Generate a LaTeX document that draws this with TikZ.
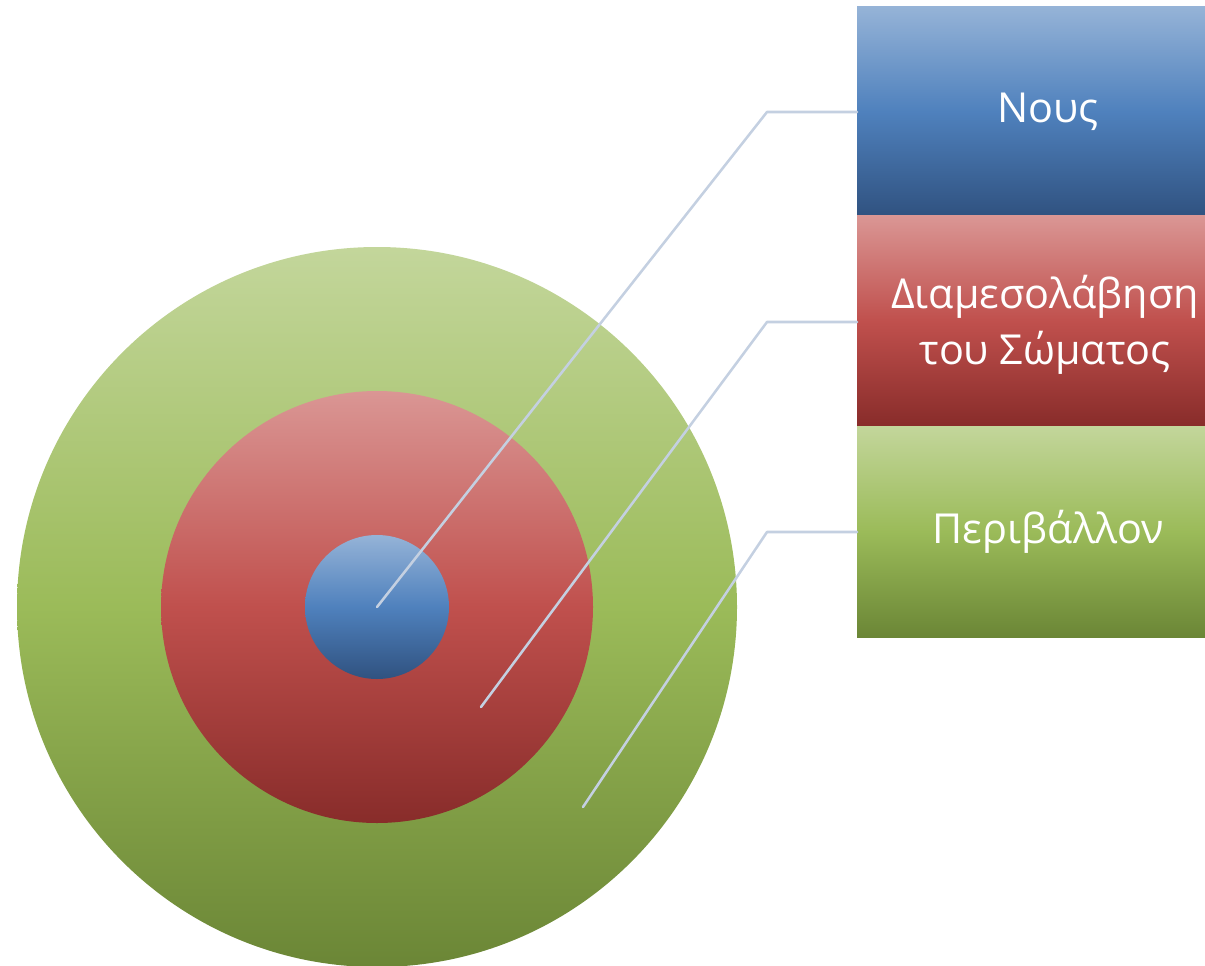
\documentclass[tikz,border=0pt]{standalone}
\usepackage{fontspec}
\setmainfont{Open Sans}
\definecolor{bT}{RGB}{149,179,215}
\definecolor{bM}{RGB}{79,129,189}
\definecolor{bB}{RGB}{48,82,128}
\definecolor{rT}{RGB}{218,150,148}
\definecolor{rM}{RGB}{192,80,77}
\definecolor{rB}{RGB}{136,44,42}
\definecolor{gT}{RGB}{195,214,155}
\definecolor{gM}{RGB}{155,187,89}
\definecolor{gB}{RGB}{107,134,54}
\definecolor{lineC}{RGB}{196,208,225}
\begin{document}
\begin{tikzpicture}[x=0.75pt,y=-0.75pt,
  bluefill/.style={top color=bT,bottom color=bB,middle color=bM,draw=none},
  redfill/.style={top color=rT,bottom color=rB,middle color=rM,draw=none},
  greenfill/.style={top color=gT,bottom color=gB,middle color=gM,draw=none},
  ring/.style={circle,inner sep=0pt,outer sep=0pt},
  panel/.style={rectangle,inner sep=0pt,outer sep=0pt,minimum width=348*0.75pt,text=white,align=center},
  label/.style={text=white,align=center,font=\fontsize{31}{42}\selectfont},
  leader/.style={draw=lineC,line width=1.9pt,line cap=round,line join=round}]
\useasboundingbox (0,0) rectangle (1205,966);
\begin{scope}
\clip (0,0) rectangle (1205,966);
\node[ring,greenfill,minimum size=720*0.75pt] (green) at (377,607) {};
\end{scope}
\node[ring,redfill,minimum size=432*0.75pt] (red) at (377,607) {};
\node[ring,bluefill,minimum size=144*0.75pt] (blue) at (377,607) {};
\coordinate (pb) at (377,607);
\coordinate (pr) at (481,707);
\coordinate (pg) at (583,807);
\coordinate (kb) at (767,112);
\coordinate (kr) at (767,322);
\coordinate (kg) at (767,532);
\node[panel,bluefill,minimum height=209*0.75pt,anchor=north west] (nous) at (857,7) {};
\node[panel,redfill,minimum height=210*0.75pt,anchor=north west] (diam) at (857,216) {};
\node[panel,greenfill,minimum height=211*0.75pt,anchor=north west] (peri) at (857,426) {};
\node[label] (tnous) at (1048,112) {Νους};
\node[label] (tdiam) at (1045,325) {Διαμεσολάβηση\\του Σώματος};
\node[label] (tperi) at (1048,532) {Περιβάλλον};
\draw[leader] (pb) -- (kb) -- (nous.west |- kb);
\draw[leader] (pr) -- (kr) -- (diam.west |- kr);
\draw[leader] (pg) -- (kg) -- (peri.west |- kg);
\end{tikzpicture}
\end{document}
